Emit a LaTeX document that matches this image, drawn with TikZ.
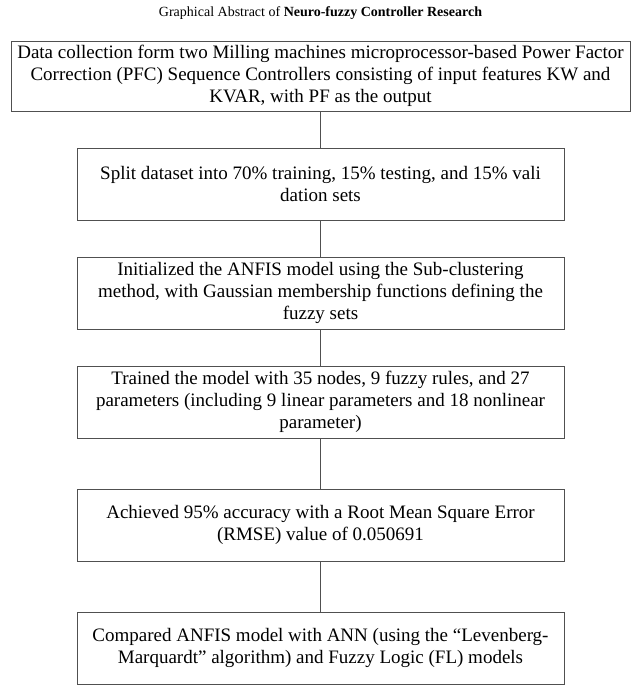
\documentclass[tikz,border=0pt]{standalone}
\usepackage{fontspec}
\setmainfont{Liberation Serif}
\usetikzlibrary{positioning}
\definecolor{boxgray}{HTML}{505050}
\tikzstyle{stage} = [rectangle, draw=boxgray, line width=1pt, align=center,
  inner sep=0pt, minimum height=72pt, minimum width=487pt,
  font=\fontsize{19}{22}\selectfont, node distance=36pt]
\tikzstyle{wide} = [stage, minimum width=619pt, minimum height=70pt]
\tikzstyle{title} = [font=\fontsize{14}{17}\selectfont]
\tikzstyle{link} = [draw=boxgray, line width=1pt]

\begin{document}
\begin{tikzpicture}[x=1pt, y=1pt]
  \useasboundingbox (0,0) rectangle (640,-689);
  \node[title] (head) at (320.5,-13.5) {Graphical Abstract of \textbf{Neuro-fuzzy Controller Research}};

  \node[wide] (collect) at (320.5,-76) {Data collection form two Milling machines microprocessor-based Power Factor\\
    Correction (PFC) Sequence Controllers consisting of input features KW and\\
    KVAR, with PF as the output};
  \node[stage, below=of collect] (split) {Split dataset into 70\% training, 15\% testing, and 15\% vali\\dation sets};
  \node[stage, below=of split] (init) {Initialized the ANFIS model using the Sub-clustering\\
    method, with Gaussian membership functions defining the\\fuzzy sets};
  \node[stage, below=of init] (train) {Trained the model with 35 nodes, 9 fuzzy rules, and 27\\
    parameters (including 9 linear parameters and 18 nonlinear\\parameter)};
  \node[stage, below=50pt of train] (result) {Achieved 95\% accuracy with a Root Mean Square Error\\(RMSE) value of 0.050691};
  \node[stage, below=50pt of result] (compare) {Compared ANFIS model with ANN (using the “Levenberg-\\
    Marquardt” algorithm) and Fuzzy Logic (FL) models};

  % plain connectors, no tips
  \foreach \a/\b in {collect/split, split/init, init/train, train/result, result/compare}
    \path[link] (\a) -- (\b);
\end{tikzpicture}
\end{document}
